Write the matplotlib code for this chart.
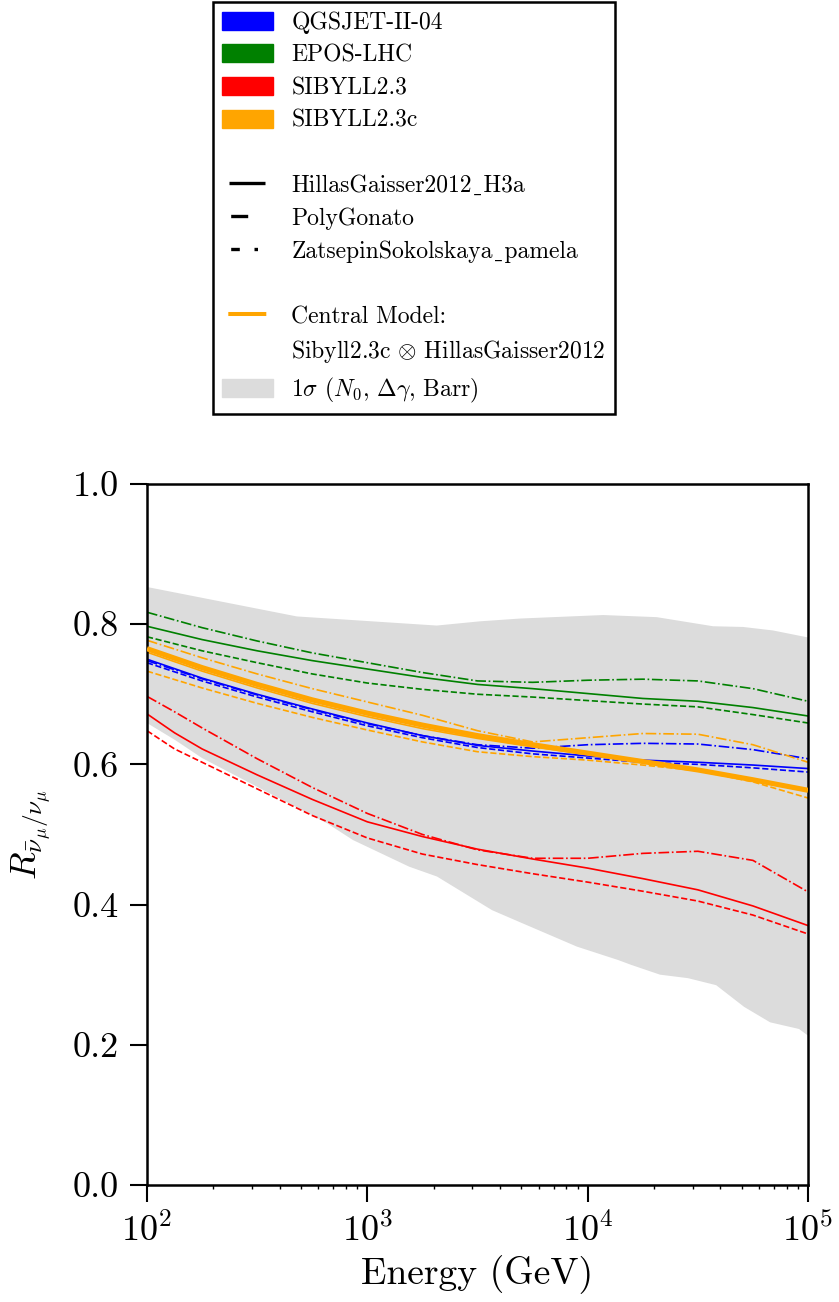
import numpy as np
import matplotlib
matplotlib.use("Agg")
import matplotlib.pyplot as plt
from matplotlib.patches import Patch
from matplotlib.lines import Line2D

plt.rcParams["font.family"] = ["cmr10", "DejaVu Serif", "DejaVu Sans"]
plt.rcParams["mathtext.fontset"] = "cm"
plt.rcParams["axes.formatter.use_mathtext"] = True
plt.rcParams["axes.unicode_minus"] = False

# ---- data ----
log_e = [2.0, 2.25, 2.5, 2.75, 3.0, 3.25, 3.5, 3.75, 4.0, 4.25, 4.5, 4.75, 5.0]

green_hillas = [0.797, 0.778, 0.762, 0.748, 0.736, 0.724, 0.714, 0.708, 0.701, 0.694, 0.690, 0.681, 0.669]
green_poly = [0.782, 0.762, 0.745, 0.729, 0.716, 0.707, 0.700, 0.696, 0.691, 0.686, 0.682, 0.671, 0.659]
green_zats = [0.817, 0.795, 0.776, 0.759, 0.745, 0.731, 0.719, 0.717, 0.720, 0.7215, 0.719, 0.708, 0.690]

blue_hillas = [0.750, 0.723, 0.700, 0.679, 0.659, 0.641, 0.627, 0.619, 0.612, 0.606, 0.603, 0.599, 0.594]
blue_poly = [0.745, 0.719, 0.696, 0.675, 0.655, 0.638, 0.624, 0.615, 0.609, 0.603, 0.600, 0.595, 0.589]
blue_zats = [0.748, 0.722, 0.699, 0.678, 0.658, 0.641, 0.628, 0.623, 0.628, 0.630, 0.629, 0.621, 0.608]

orange_hillas = [0.760, 0.733, 0.709, 0.687, 0.668, 0.651, 0.637, 0.625, 0.614, 0.603, 0.591, 0.577, 0.562]
orange_poly = [0.733, 0.709, 0.687, 0.667, 0.649, 0.632, 0.618, 0.611, 0.606, 0.599, 0.591, 0.575, 0.552]
orange_zats = [0.777, 0.752, 0.729, 0.708, 0.689, 0.670, 0.648, 0.632, 0.638, 0.644, 0.643, 0.628, 0.603]
central = [0.765, 0.738, 0.714, 0.692, 0.673, 0.656, 0.641, 0.628, 0.616, 0.604, 0.592, 0.578, 0.563]

# red curves bend more at low energy, so they carry one extra point
red_log_e = [2.0, 2.125, 2.25, 2.5, 2.75, 3.0, 3.25, 3.5, 3.75, 4.0, 4.25, 4.5, 4.75, 5.0]
red_hillas = [0.672, 0.645, 0.622, 0.585, 0.550, 0.518, 0.497, 0.479, 0.465, 0.452, 0.437, 0.421, 0.398, 0.370]
red_poly = [0.648, 0.622, 0.603, 0.565, 0.527, 0.495, 0.472, 0.457, 0.444, 0.432, 0.419, 0.405, 0.385, 0.358]
red_zats = [0.697, 0.675, 0.652, 0.608, 0.567, 0.530, 0.500, 0.478, 0.466, 0.466, 0.473, 0.476, 0.463, 0.418]

# 1 sigma band edges
band_up_loge = [2.0, 2.68, 3.315, 3.51, 3.693, 4.07, 4.313, 4.569, 4.705, 4.841, 5.0]
band_up = [0.853, 0.811, 0.798, 0.804, 0.808, 0.813, 0.810, 0.797, 0.796, 0.791, 0.781]
band_lo_loge = [2.0, 2.126, 2.25, 2.5, 2.817, 2.935, 3.19, 3.316, 3.566, 3.706, 3.951,
                4.137, 4.197, 4.328, 4.455, 4.583, 4.71, 4.828, 4.959, 5.0]
band_lo = [0.659, 0.635, 0.609, 0.568, 0.516, 0.492, 0.454, 0.440, 0.392, 0.373, 0.340,
           0.321, 0.314, 0.300, 0.295, 0.285, 0.254, 0.232, 0.2225, 0.213]

models = ["QGSJET-II-04", "EPOS-LHC", "SIBYLL2.3", "SIBYLL2.3c"]
colors = ["#0000ff", "#008000", "#ff0000", "#ffa500"]
# U+02CD stands in for the underscore (cmr10 has a dot accent in that slot)
fluxes = ["HillasGaisser2012\u02cdH3a", "PolyGonato", "ZatsepinSokolskaya\u02cdpamela"]

energy = 10 ** np.array(log_e)
red_energy = 10 ** np.array(red_log_e)
curves = {
    "#0000ff": (energy, [blue_hillas, blue_poly, blue_zats]),
    "#008000": (energy, [green_hillas, green_poly, green_zats]),
    "#ff0000": (red_energy, [red_hillas, red_poly, red_zats]),
    "#ffa500": (energy, [orange_hillas, orange_poly, orange_zats]),
}
styles = ["-", "--", "-."]

fig = plt.figure(figsize=(8.39, 13.02), dpi=100)
ax = fig.add_axes([0.1752, 0.0899, 0.7879, 0.5384])

xb = np.concatenate([10 ** np.array(band_up_loge), (10 ** np.array(band_lo_loge))[::-1]])
yb = np.concatenate([band_up, band_lo[::-1]])
ax.fill(xb, yb, color="#dcdcdc", lw=0, zorder=1)

for c in colors:
    xs, sets = curves[c]
    for vals, ls in zip(sets, styles):
        ax.plot(xs, vals, color=c, ls=ls, lw=1.2, zorder=2)
ax.plot(energy, central, color="#ffa500", lw=3.7, zorder=3, solid_capstyle="butt")

ax.set_xscale("log")
ax.set_xlim(1e2, 1e5)
ax.set_ylim(0, 1.0)
ax.set_yticks([0.0, 0.2, 0.4, 0.6, 0.8, 1.0])
ax.set_yticklabels(["0.0", "0.2", "0.4", "0.6", "0.8", "1.0"])
ax.tick_params(axis="both", which="major", direction="out", length=12, width=1.5,
               labelsize=26, pad=8)
ax.tick_params(axis="x", which="minor", direction="out", length=3, width=1.0)
for s in ax.spines.values():
    s.set_linewidth(1.8)

ax.set_xlabel("Energy (GeV)", fontsize=27, labelpad=5)
ax.set_ylabel(r"$R_{\bar{\nu}_\mu/\nu_\mu}$", fontsize=26)
ax.yaxis.set_label_coords(-0.14, 0.5)

# ---- legend ----
fs = 17


def gap_dash(lw, gap_px, segs_px):
    # linestyle tuple that starts with a gap of gap_px, then segs (on, off, ...)
    k = 0.72 / lw
    seq = [v * k for v in segs_px]
    return (sum(seq) - gap_px * k, seq)


handles = [Patch(facecolor=c, edgecolor=c) for c in colors]
labels = list(models)
handles.append(Line2D([], [], color="none"))
labels.append("")
handles.append(Line2D([], [], color="k", lw=2.4, ls=gap_dash(2.4, 7, [36, 40])))
handles.append(Line2D([], [], color="k", lw=2.4, ls=gap_dash(2.4, 8.7, [17, 40])))
handles.append(Line2D([], [], color="k", lw=2.4, ls=gap_dash(2.4, 8.7, [8.6, 14.7, 3.5, 40])))
labels += fluxes
handles.append(Line2D([], [], color="none"))
labels.append("")
handles.append(Line2D([], [], color="#ffa500", lw=2.9, ls=gap_dash(2.9, 6.3, [38, 40])))
labels.append("Central Model:")
handles.append(Line2D([], [], color="none"))
labels.append(r"Sibyll2.3c $\otimes$ HillasGaisser2012")
handles.append(Patch(facecolor="#dcdcdc", edgecolor="#dcdcdc"))
labels.append(r"$1\sigma$ ($N_0$, $\Delta\gamma$, Barr)")

leg = fig.legend(handles, labels, loc="upper left",
                 bbox_to_anchor=(213 / 839, 1 - 2 / 1302),
                 bbox_transform=fig.transFigure, borderaxespad=0,
                 fontsize=fs, frameon=True, fancybox=False, framealpha=1,
                 edgecolor="k", handlelength=2.16, handleheight=0.8,
                 handletextpad=0.76, labelspacing=0.44, borderpad=0.4)
leg.get_frame().set_linewidth(1.8)

fig.savefig("out.png", dpi=100)
